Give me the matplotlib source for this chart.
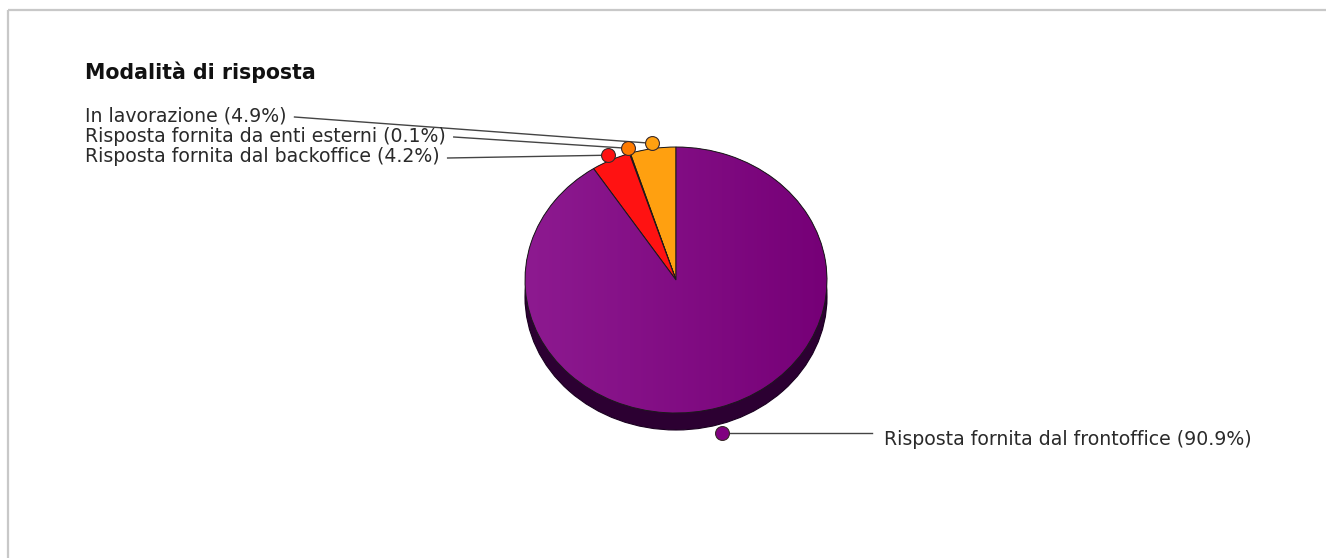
import numpy as np
import matplotlib
matplotlib.use("Agg")
import matplotlib.pyplot as plt
from matplotlib.patches import Ellipse
from matplotlib.colors import LinearSegmentedColormap

# ---- data ----
title = "Modalità di risposta"
categories = [
    "In lavorazione",
    "Risposta fornita da enti esterni",
    "Risposta fornita dal backoffice",
    "Risposta fornita dal frontoffice",
]
values = [4.9, 0.1, 4.2, 90.9]
slice_colors = ["#ffa010", "#ff7a00", "#ff1212", "#800080"]

# ---- canvas (pixel-based overlay) ----
W, H = 1326, 558
fig = plt.figure(figsize=(W / 100, H / 100), dpi=100)
fig.patch.set_facecolor("white")

# pie geometry in pixels
cx, cy, rx, ry = 676, 280, 151, 133
depth_px = 17
m = 1.4

ax_pie = fig.add_axes([(cx - m * rx) / W, (H - (cy + m * ry)) / H,
                       2 * m * rx / W, 2 * m * ry / H])
ax_pie.set_zorder(0)

# extruded side of the pie
depth = depth_px / ry
for k in np.linspace(0, depth, 12):
    ax_pie.add_patch(Ellipse((0, -k), 2, 2, facecolor="#2c0032",
                             edgecolor="none", zorder=0.5))
ax_pie.add_patch(Ellipse((0, -depth), 2, 2, facecolor="none",
                         edgecolor="#1a0020", linewidth=0.8, zorder=0.6))

wedges, _ = ax_pie.pie(values, colors=slice_colors, startangle=90,
                       counterclock=True, radius=1,
                       wedgeprops=dict(edgecolor="#1a1a1a", linewidth=0.7))

# horizontal shading on the large slice
big = wedges[3]
cmap = LinearSegmentedColormap.from_list("shade", ["#8d1a90", "#760077"])
grad = np.linspace(0, 1, 256).reshape(1, -1)
im = ax_pie.imshow(grad, extent=(-1, 1, -1, 1), cmap=cmap, aspect="auto",
                   zorder=1.5, interpolation="bilinear")
im.set_clip_path(big)
big.set_facecolor("none")
big.set_zorder(2)

ax_pie.set_aspect("auto")
ax_pie.set_xlim(-m, m)
ax_pie.set_ylim(-m, m)
ax_pie.axis("off")

# ---- overlay for frame, title, labels ----
ax = fig.add_axes([0, 0, 1, 1])
ax.set_zorder(1)
ax.patch.set_alpha(0)
ax.set_xlim(0, W)
ax.set_ylim(H, 0)
ax.axis("off")

# frame lines
ax.plot([7.5, 7.5], [H, 10], color="#c8c8c8", lw=1.6, solid_capstyle="butt")
ax.plot([7.5, W], [10, 10], color="#c8c8c8", lw=1.6, solid_capstyle="butt")

ax.text(85, 72, title, fontsize=14.8, fontweight="bold", color="#111111",
        va="center", ha="left", family="DejaVu Sans")

# label anchor points on the rim
total = sum(values)
cum = np.cumsum(values)
mid_deg = 90 + 360 * (cum - np.array(values) / 2) / total
anchors = []
for a in mid_deg:
    t = np.deg2rad(a)
    if np.sin(t) < 0:
        f = 1.065
        x = cx + f * rx * np.cos(t)
        y = cy - f * ry * np.sin(t) + depth_px
    else:
        f = 1.04
        x = cx + f * rx * np.cos(t)
        y = cy - f * ry * np.sin(t)
    anchors.append((x, y))

label_text = [f"{c} ({v}%)" for c, v in zip(categories, values)]
text_kw = dict(fontsize=13.6, color="#2a2a2a", va="center", family="DejaVu Sans")

left_y = [116, 136, 157]
left_texts = []
for i in range(3):
    left_texts.append(ax.text(85, left_y[i], label_text[i], ha="left", **text_kw))

fig.canvas.draw()
for i, t in enumerate(left_texts):
    bb = t.get_window_extent()
    x0 = bb.x1 + 8
    ax.plot([x0, anchors[i][0]], [left_y[i] + 1, anchors[i][1]],
            color="#444444", lw=1.0, zorder=2)

# right-hand label
ax_, ay_ = anchors[3]
ax.plot([ax_, 872], [ay_, ay_], color="#444444", lw=1.0, zorder=2)
ax.text(884, ay_ + 7, label_text[3], ha="left", **text_kw)

# markers
for (x, y), c in zip(anchors, slice_colors):
    ax.plot(x, y, "o", ms=10, mfc=c, mec="#3a2a2a", mew=0.8, zorder=3)

fig.savefig("out.png", dpi=100, facecolor="white")
